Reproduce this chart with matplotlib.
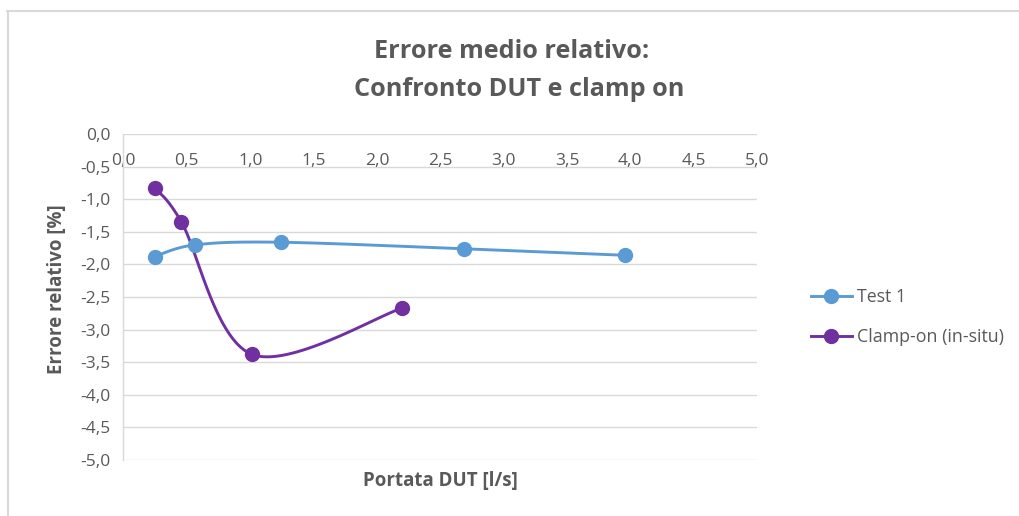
import numpy as np
import matplotlib
matplotlib.use("Agg")
import matplotlib.pyplot as plt
from matplotlib.lines import Line2D

plt.rcParams['font.family'] = ['Open Sans', 'DejaVu Sans']

# Data
test1_x = [0.245, 0.566, 1.24, 2.686, 3.957]
test1_y = [-1.88, -1.70, -1.66, -1.76, -1.86]
clamp_x = [0.245, 0.456, 1.014, 2.20]
clamp_y = [-0.83, -1.345, -3.38, -2.67]
series_names = ["Test 1", "Clamp-on (in-situ)"]
series_colors = ["#5b9bd5", "#7030a0"]
x_ticks = [0.0, 0.5, 1.0, 1.5, 2.0, 2.5, 3.0, 3.5, 4.0, 4.5, 5.0]
y_ticks = [0.0, -0.5, -1.0, -1.5, -2.0, -2.5, -3.0, -3.5, -4.0, -4.5, -5.0]

W, H = 1020, 516
fig = plt.figure(figsize=(W / 100, H / 100), dpi=100)
ax = fig.add_axes([123.5 / W, 1 - 460 / H, (757 - 123.5) / W, (460 - 134) / H])

ax.set_xlim(0, 5)
ax.set_ylim(-5, 0)

grid_col = "#d9d9d9"
text_col = "#595959"


def smooth_curve(ax, xs, ys, n=40):
    """Bezier-smoothed curve through the points, computed in display space."""
    pts = ax.transData.transform(np.column_stack([xs, ys]))
    out = [pts[0]]
    m = len(pts)
    for i in range(m - 1):
        p0 = pts[i - 1] if i > 0 else pts[i]
        p1 = pts[i]
        p2 = pts[i + 1]
        p3 = pts[i + 2] if i + 2 < m else pts[i + 1]
        c1 = p1 + (p2 - p0) / 6.0
        c2 = p2 - (p3 - p1) / 6.0
        t = np.linspace(0, 1, n)[1:, None]
        seg = ((1 - t) ** 3) * p1 + 3 * ((1 - t) ** 2) * t * c1 + 3 * (1 - t) * t ** 2 * c2 + t ** 3 * p2
        out.extend(seg)
    out = np.array(out)
    return ax.transData.inverted().transform(out)


for xs, ys, col, name in zip([test1_x, clamp_x], [test1_y, clamp_y], series_colors, series_names):
    curve = smooth_curve(ax, xs, ys)
    ax.plot(curve[:, 0], curve[:, 1], color=col, lw=2.1, solid_capstyle="round", zorder=3)
    ax.plot(xs, ys, "o", color=col, ms=10, zorder=4)

# Grid and axes
ax.set_yticks(y_ticks)
ax.set_xticks(x_ticks)
for yv in y_ticks:
    ax.axhline(yv, color=grid_col, lw=1.0, zorder=1)
for s in ["right", "bottom", "top"]:
    ax.spines[s].set_visible(False)
ax.spines["left"].set_color(grid_col)
ax.spines["left"].set_linewidth(1.0)

ax.tick_params(axis="both", length=0, colors=text_col, labelsize=12.5)
ax.tick_params(axis="y", pad=9)
# x labels hang just below the zero line at the top of the plot
ax.tick_params(axis="x", top=False, bottom=False, labeltop=True, labelbottom=False, pad=-14)
ax.set_xticklabels([f"{v:.1f}".replace(".", ",") for v in x_ticks], va="top")
ax.set_yticklabels([f"{v:.1f}".replace(".", ",") for v in y_ticks])

ax.set_ylabel("Errore relativo [%]", fontsize=13.5, fontweight="bold", color=text_col)
ax.yaxis.set_label_coords((67 - 123.5) / 633.5, (460 - 289) / 326)

fig.text(440 / W, 1 - 481 / H, "Portata DUT [l/s]", ha="center", va="center",
         fontsize=13.5, fontweight="bold", color=text_col)

fig.text(512 / W, 1 - 52 / H, "Errore medio relativo:", ha="center", va="center",
         fontsize=18.2, fontweight="bold", color=text_col)
fig.text(519 / W, 1 - 89 / H, "Confronto DUT e clamp on", ha="center", va="center",
         fontsize=18.2, fontweight="bold", color=text_col)

handles = [Line2D([0], [0], color=c, lw=2.1, marker="o", ms=10) for c in series_colors]
fig.legend(handles, series_names, loc="center left", bbox_to_anchor=(795 / W, 1 - 317 / H),
           frameon=False, fontsize=12.8, labelcolor=text_col, handlelength=2.3,
           handletextpad=0.3, labelspacing=1.25)

# Outer chart frame
fig.add_artist(Line2D([7 / W, 1], [1 - 11 / H, 1 - 11 / H], color=grid_col, lw=1.5))
fig.add_artist(Line2D([8 / W, 8 / W], [0, 1 - 11 / H], color=grid_col, lw=1.5))

fig.savefig("out.png", dpi=100)
